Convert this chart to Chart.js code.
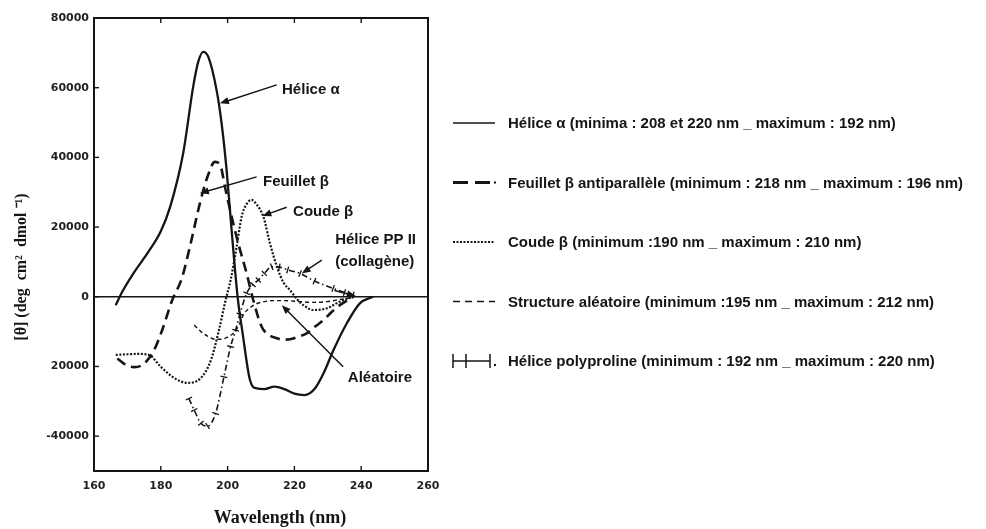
<!DOCTYPE html>
<html>
<head>
<meta charset="utf-8">
<script src="https://cdn.jsdelivr.net/npm/chart.js@4"></script>
<style>
  html, body { margin: 0; padding: 0; background: #fff; }
</style>
</head>
<body>
<canvas id="cd" width="986" height="529"></canvas>
<script>
// CD spectra of the main secondary structures, wavelength in nm, [θ] in deg cm2 dmol-1
const helixX = [166.5, 168.5, 172, 176, 180, 182.8, 186.7, 189.7, 191.2, 192.7, 194.2, 196.7, 198.2, 199.7, 201.2, 203, 204.5, 206.7, 208.7, 211, 214, 217, 220, 223, 226, 228.7, 231.7, 235.7, 239.6, 243.6];
const helixY = [-2400, 1500, 7000, 12500, 18800, 25800, 41200, 60300, 67400, 70300, 68900, 59300, 49800, 36400, 19100, 0, -10500, -23900, -26300, -26500, -25800, -26500, -27800, -28200, -26500, -22000, -15300, -7600, -1900, 0];

const sheetX = [167, 169.5, 172, 174, 176, 178, 180.4, 183.4, 186.3, 188.7, 191.7, 194, 196.2, 197.8, 199.2, 201.2, 203.2, 205.7, 207.7, 210.2, 212.5, 214.7, 216.7, 218.7, 221, 223.7, 226, 228.7, 231, 233.6, 237.6];
const sheetY = [-17700, -19500, -20200, -19800, -18200, -15300, -9600, -1000, 5300, 14300, 26800, 34500, 38700, 37800, 31600, 23000, 15300, 6700, -1000, -8600, -11000, -11900, -12300, -12200, -11500, -10500, -8700, -6700, -4500, -2400, 0];

const turnX = [166.5, 170, 173, 176.5, 180, 184, 187.8, 192, 195, 197.4, 199.4, 200.9, 202.7, 204.2, 205.7, 207.2, 208.7, 210.7, 212.7, 214.8, 216.8, 218.7, 220.7, 222.7, 225.7, 229.7, 233.6, 237.6];
const turnY = [-16700, -16500, -16400, -16700, -20100, -23300, -24700, -23300, -18200, -9600, -1000, 4800, 14300, 23000, 26600, 27800, 26500, 23000, 15300, 8500, 4000, 1900, -600, -2400, -3800, -3300, -1400, 0];

const coilX = [190, 192, 194, 196.4, 198, 200, 202, 203.5, 204.7, 206.5, 208.7, 211, 213.7, 217, 221.7, 225.7, 229.7, 233.6, 237.6];
const coilY = [-8100, -10000, -11300, -12200, -12200, -11600, -10200, -8000, -5200, -3300, -2000, -1400, -1100, -1100, -1400, -1600, -1400, -800, -200];

const ppiiX = [188.4, 190, 192, 194, 196.4, 198.9, 200.9, 202.4, 203.7, 205.7, 207.6, 209.2, 211, 213.2, 215.5, 218, 221.7, 226, 231.6, 235, 237.6];
const ppiiY = [-29200, -32500, -36300, -37100, -33500, -23000, -14300, -9600, -5000, 1000, 3500, 4800, 6700, 8600, 8500, 7700, 6700, 4500, 2400, 1200, 500];

const seriesNames = [
  'Hélice α (minima : 208 et 220 nm _ maximum : 192 nm)',
  'Feuillet β antiparallèle (minimum : 218 nm _ maximum : 196 nm)',
  'Coude β (minimum :190 nm _ maximum : 210 nm)',
  'Structure aléatoire (minimum :195 nm _ maximum : 212 nm)',
  'Hélice polyproline (minimum : 192 nm _ maximum : 220 nm)'
];

const xTicks = [160, 180, 200, 220, 240, 260];
const yTicks = [-40000, -20000, 0, 20000, 40000, 60000, 80000];
const yTickLabels = ['-40000', '20000', '0', '20000', '40000', '60000', '80000'];

// callouts on the plot, in data units
const notes = [
  { text: ['Hélice α'], at: [216.3, 59300], tail: [214.7, 60800], tip: [197.7, 55500] },
  { text: ['Feuillet β'], at: [210.6, 32900], tail: [208.7, 34400], tip: [191.7, 29700] },
  { text: ['Coude β'], at: [219.6, 24300], tail: [217.7, 25700], tip: [210.4, 23200] },
  { text: ['Hélice PP II', '(collagène)'], at: [232.2, 16300], tail: [228.2, 10500], tip: [222.2, 6700] },
  { text: ['Aléatoire'], at: [236, -23300], tail: [234.6, -20100], tip: [216.2, -2400] },
  { text: [], at: null, tail: [232, 1800], tip: [238.4, 200] }
];

const ink = '#151515';

function pts(xs, ys) {
  return xs.map((x, i) => ({ x: x, y: ys[i] }));
}

function line(ctx, x1, y1, x2, y2) {
  ctx.beginPath();
  ctx.moveTo(x1, y1);
  ctx.lineTo(x2, y2);
  ctx.stroke();
}

function arrow(ctx, x1, y1, x2, y2) {
  const ang = Math.atan2(y2 - y1, x2 - x1);
  const len = 9, half = 3.5;
  line(ctx, x1, y1, x2 - Math.cos(ang) * len * 0.6, y2 - Math.sin(ang) * len * 0.6);
  ctx.beginPath();
  ctx.moveTo(x2, y2);
  ctx.lineTo(x2 - Math.cos(ang) * len - Math.sin(ang) * half, y2 - Math.sin(ang) * len + Math.cos(ang) * half);
  ctx.lineTo(x2 - Math.cos(ang) * len + Math.sin(ang) * half, y2 - Math.sin(ang) * len - Math.cos(ang) * half);
  ctx.closePath();
  ctx.fill();
}

// tick marks across the polyproline trace: turn each point square to the curve
function acrossCurve(c) {
  const d = c.dataset.data, i = c.dataIndex;
  const xs = c.chart.scales.x, ys = c.chart.scales.y;
  const p = d[Math.max(i - 1, 0)], q = d[Math.min(i + 1, d.length - 1)];
  const dx = xs.getPixelForValue(q.x) - xs.getPixelForValue(p.x);
  const dy = ys.getPixelForValue(q.y) - ys.getPixelForValue(p.y);
  return Math.atan2(dy, dx) * 180 / Math.PI + 90;
}

// little line samples for the key on the right
function drawSample(ctx, i, x, y) {
  ctx.save();
  ctx.strokeStyle = ink;
  ctx.fillStyle = ink;
  if (i === 0) {
    ctx.lineWidth = 1.6;
    line(ctx, x, y, x + 42, y);
  } else if (i === 1) {
    ctx.lineWidth = 3;
    line(ctx, x, y, x + 15, y);
    line(ctx, x + 22, y, x + 37, y);
    ctx.fillRect(x + 41, y - 1, 2, 2);
  } else if (i === 2) {
    ctx.lineWidth = 2.2;
    ctx.setLineDash([2, 1.5]);
    line(ctx, x, y, x + 42, y);
  } else if (i === 3) {
    ctx.lineWidth = 1.6;
    ctx.setLineDash([7, 5]);
    line(ctx, x, y, x + 42, y);
  } else {
    ctx.lineWidth = 1.5;
    line(ctx, x, y, x + 37, y);
    [0, 13, 37].forEach(dx => line(ctx, x + dx, y - 7, x + dx, y + 7));
    ctx.fillRect(x + 41, y + 3, 2, 2);
  }
  ctx.restore();
}

const decor = {
  id: 'decor',
  afterDraw(chart) {
    const ctx = chart.ctx;
    const a = chart.chartArea;
    const xs = chart.scales.x, ys = chart.scales.y;
    ctx.save();
    ctx.strokeStyle = ink;
    ctx.fillStyle = ink;

    // frame and inward ticks
    ctx.lineWidth = 2;
    ctx.strokeRect(a.left, a.top, a.right - a.left, a.bottom - a.top);
    ctx.lineWidth = 1.4;
    xTicks.forEach(v => {
      const px = xs.getPixelForValue(v);
      line(ctx, px, a.bottom, px, a.bottom - 5);
      line(ctx, px, a.top, px, a.top + 5);
    });
    yTicks.forEach(v => {
      const py = ys.getPixelForValue(v);
      line(ctx, a.left, py, a.left + 5, py);
    });

    // axis titles
    ctx.font = 'bold 18px "Liberation Serif", "Times New Roman", serif';
    ctx.textAlign = 'center';
    ctx.textBaseline = 'middle';
    ctx.fillText('Wavelength (nm)', a.left + (a.right - a.left) * 0.557, 518);
    ctx.save();
    ctx.translate(22, 267);
    ctx.rotate(-Math.PI / 2);
    ctx.font = 'bold 16px "Liberation Serif", "Times New Roman", serif';
    ctx.fillText('[θ] (deg  cm²  dmol ⁻¹)', 0, 0);
    ctx.restore();

    // callouts
    ctx.font = 'bold 15px "Liberation Sans", Arial, sans-serif';
    ctx.textAlign = 'left';
    ctx.lineWidth = 1.5;
    notes.forEach(n => {
      arrow(ctx, xs.getPixelForValue(n.tail[0]), ys.getPixelForValue(n.tail[1]),
        xs.getPixelForValue(n.tip[0]), ys.getPixelForValue(n.tip[1]));
      if (n.at) {
        const tx = xs.getPixelForValue(n.at[0]), ty = ys.getPixelForValue(n.at[1]);
        n.text.forEach((t, k) => ctx.fillText(t, tx, ty + k * 22));
      }
    });

    // key
    chart.data.datasets.forEach((ds, i) => {
      const ky = a.top + 105 + i * 59.5;
      drawSample(ctx, i, a.right + 25, ky);
      ctx.fillText(ds.label, a.right + 80, ky + 1);
    });
    ctx.restore();
  }
};

const common = {
  borderColor: ink,
  pointRadius: 0,
  fill: false,
  cubicInterpolationMode: 'monotone'
};

new Chart(document.getElementById('cd'), {
  type: 'line',
  data: {
    datasets: [
      Object.assign({ label: seriesNames[0], data: pts(helixX, helixY), borderWidth: 2.3 }, common),
      Object.assign({ label: seriesNames[1], data: pts(sheetX, sheetY), borderWidth: 2.6, borderDash: [10, 6] }, common),
      Object.assign({ label: seriesNames[2], data: pts(turnX, turnY), borderWidth: 2.2, borderDash: [2, 1.6] }, common),
      Object.assign({ label: seriesNames[3], data: pts(coilX, coilY), borderWidth: 1.4, borderDash: [4, 3] }, common),
      Object.assign({ label: seriesNames[4], data: pts(ppiiX, ppiiY), borderWidth: 1.6, borderDash: [6, 3, 1.5, 3] }, common, {
        pointRadius: 3.5,
        pointStyle: 'line',
        pointBorderWidth: 1.3,
        pointBorderColor: ink,
        pointRotation: acrossCurve
      })
    ]
  },
  options: {
    responsive: false,
    animation: false,
    layout: { padding: { top: 18, right: 558, left: 0, bottom: 0 } },
    plugins: { legend: { display: false }, tooltip: { enabled: false } },
    scales: {
      x: {
        type: 'linear',
        min: 160,
        max: 260,
        afterBuildTicks: s => { s.ticks = xTicks.map(v => ({ value: v })); },
        afterFit: s => { s.height = 58; },
        border: { display: false },
        grid: { display: false, drawTicks: false },
        ticks: {
          padding: 9,
          color: '#222',
          font: { family: '"DejaVu Sans", sans-serif', size: 11, weight: 'bold' },
          maxRotation: 0
        }
      },
      y: {
        min: -50000,
        max: 80000,
        afterBuildTicks: s => { s.ticks = yTicks.map(v => ({ value: v })); },
        afterFit: s => { s.width = 94; },
        border: { display: false },
        grid: {
          drawTicks: false,
          lineWidth: 1.6,
          color: c => (c.tick && c.tick.value === 0 ? ink : 'rgba(0,0,0,0)')
        },
        ticks: {
          padding: 5,
          color: '#222',
          font: { family: '"DejaVu Sans", sans-serif', size: 11, weight: 'bold' },
          callback: (v, i) => yTickLabels[i]
        }
      }
    }
  },
  plugins: [decor]
});
</script>
</body>
</html>
